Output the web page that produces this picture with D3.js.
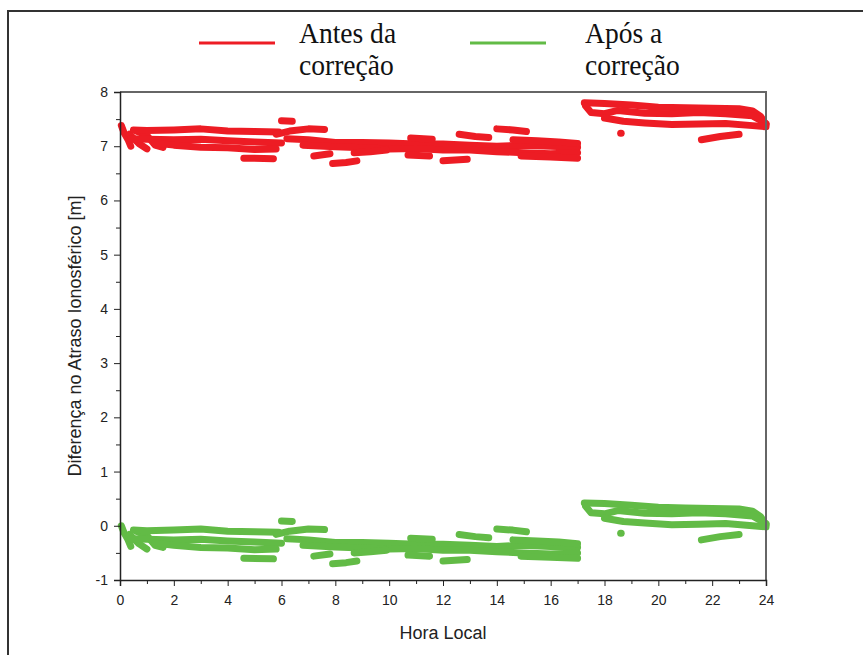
<!DOCTYPE html>
<html>
<head>
<meta charset="utf-8">
<script src="https://cdn.jsdelivr.net/npm/d3@7"></script>
<style>
  body { margin: 0; background: #fff; }
  svg { display: block; }
</style>
</head>
<body>
<div id="chart"></div>
<script>
//Hours of the x axis and value ticks of the y axis
var xTicks = [0, 2, 4, 6, 8, 10, 12, 14, 16, 18, 20, 22, 24];
var yTicks = [-1, 0, 1, 2, 3, 4, 5, 6, 7, 8];

var legendLabels = [["Antes da", "correção"], ["Após a", "correção"]];
var color = ["#ed1c24", "#62bb46"];

//Tracks, each one [hour, difference in m]
//Before correction
var antesTracks = [
  [[0.05, 7.38], [0.15, 7.25], [0.3, 7.12], [0.4, 7.0]],
  [[0.35, 7.22], [0.7, 7.05], [1.0, 6.95]],
  [[0.6, 7.28], [1.0, 7.2], [1.3, 7.02], [1.6, 6.98]],
  [[0.5, 7.3], [1, 7.29], [2, 7.3], [3, 7.32], [4, 7.28], [5, 7.27], [5.9, 7.26]],
  [[0.4, 7.14], [1, 7.13], [2, 7.12], [3, 7.13], [4, 7.1], [5, 7.08], [6.0, 7.06]],
  [[1.3, 7.06], [2, 7.02], [3, 6.98], [4, 6.97], [5, 6.94], [5.8, 6.95]],
  [[4.6, 6.78], [5.7, 6.77]],
  [[6.0, 7.47], [6.4, 7.46]],
  [[5.8, 7.22], [6.3, 7.28], [7.0, 7.32], [7.6, 7.31]],
  [[6.2, 7.14], [7, 7.12], [8, 7.07], [9, 7.07], [10, 7.06], [11, 7.04], [12, 7.04], [13, 7.02], [14, 7.0], [15, 7.02], [16, 7.0], [17, 6.98]],
  [[6.8, 7.02], [8, 6.99], [9, 6.97], [10, 6.95], [11, 6.96], [12, 6.93], [13, 6.93], [14, 6.9], [15, 6.88], [16, 6.86], [17, 6.88]],
  [[7.2, 6.82], [7.8, 6.86]],
  [[7.9, 6.68], [8.4, 6.7], [8.8, 6.73]],
  [[8.7, 6.88], [9.3, 6.9], [9.9, 6.93]],
  [[10.7, 6.84], [11.5, 6.82]],
  [[10.8, 7.15], [11.6, 7.13]],
  [[12.0, 6.73], [12.9, 6.76]],
  [[12.6, 7.22], [13.2, 7.18], [13.7, 7.16]],
  [[14.0, 7.32], [14.6, 7.3], [15.1, 7.27]],
  [[14.6, 7.12], [15.5, 7.1], [16.3, 7.08], [17.0, 7.05]],
  [[14.9, 6.82], [16, 6.8], [17.0, 6.78]],
  [[17.25, 7.8], [18, 7.79], [19, 7.76], [20, 7.72], [21, 7.71], [22, 7.7], [23, 7.69], [23.5, 7.65], [23.8, 7.55], [24, 7.4]],
  [[17.3, 7.74], [17.5, 7.62], [18, 7.6], [18.5, 7.66], [19.5, 7.61], [20.5, 7.6], [21.5, 7.62], [22.5, 7.6], [23.5, 7.56], [24, 7.42]],
  [[18.0, 7.52], [18.7, 7.46], [19.5, 7.43], [20.5, 7.4], [21.5, 7.41], [22.5, 7.42], [23.5, 7.38], [24, 7.36]],
  [[18.6, 7.24], [18.62, 7.24]],
  [[21.6, 7.12], [22.3, 7.18], [23.0, 7.22]]
];

//After correction
var aposTracks = [
  [[0.05, 0.0], [0.15, -0.13], [0.3, -0.26], [0.4, -0.38]],
  [[0.35, -0.16], [0.7, -0.33], [1.0, -0.43]],
  [[0.6, -0.1], [1.0, -0.18], [1.3, -0.36], [1.6, -0.4]],
  [[0.5, -0.08], [1, -0.09], [2, -0.08], [3, -0.06], [4, -0.1], [5, -0.11], [5.9, -0.12]],
  [[0.4, -0.24], [1, -0.25], [2, -0.26], [3, -0.25], [4, -0.28], [5, -0.3], [6.0, -0.32]],
  [[1.3, -0.32], [2, -0.36], [3, -0.4], [4, -0.41], [5, -0.44], [5.8, -0.43]],
  [[4.6, -0.6], [5.7, -0.61]],
  [[6.0, 0.09], [6.4, 0.08]],
  [[5.8, -0.16], [6.3, -0.1], [7.0, -0.06], [7.6, -0.07]],
  [[6.2, -0.24], [7, -0.26], [8, -0.31], [9, -0.31], [10, -0.32], [11, -0.34], [12, -0.34], [13, -0.36], [14, -0.38], [15, -0.36], [16, -0.38], [17, -0.4]],
  [[6.8, -0.36], [8, -0.39], [9, -0.41], [10, -0.43], [11, -0.42], [12, -0.45], [13, -0.45], [14, -0.48], [15, -0.5], [16, -0.52], [17, -0.5]],
  [[7.2, -0.56], [7.8, -0.52]],
  [[7.9, -0.7], [8.4, -0.68], [8.8, -0.65]],
  [[8.7, -0.5], [9.3, -0.48], [9.9, -0.45]],
  [[10.7, -0.54], [11.5, -0.56]],
  [[10.8, -0.23], [11.6, -0.25]],
  [[12.0, -0.65], [12.9, -0.62]],
  [[12.6, -0.16], [13.2, -0.2], [13.7, -0.22]],
  [[14.0, -0.06], [14.6, -0.08], [15.1, -0.11]],
  [[14.6, -0.26], [15.5, -0.28], [16.3, -0.3], [17.0, -0.33]],
  [[14.9, -0.56], [16, -0.58], [17.0, -0.6]],
  [[17.25, 0.42], [18, 0.41], [19, 0.38], [20, 0.34], [21, 0.33], [22, 0.32], [23, 0.31], [23.5, 0.27], [23.8, 0.17], [24, 0.02]],
  [[17.3, 0.36], [17.5, 0.24], [18, 0.22], [18.5, 0.28], [19.5, 0.23], [20.5, 0.22], [21.5, 0.24], [22.5, 0.22], [23.5, 0.18], [24, 0.04]],
  [[18.0, 0.14], [18.7, 0.08], [19.5, 0.05], [20.5, 0.02], [21.5, 0.03], [22.5, 0.04], [23.5, 0.0], [24, -0.02]],
  [[18.6, -0.14], [18.62, -0.14]],
  [[21.6, -0.26], [22.3, -0.2], [23.0, -0.16]]
];

var width = 863, height = 655;
var plot = { left: 120, right: 766, top: 92, bottom: 580 };

var svg = d3.select("#chart").append("svg")
    .attr("width", width)
    .attr("height", height);

//outer frame of the figure
svg.append("rect")
    .attr("x", 8).attr("y", 11)
    .attr("width", 880).attr("height", 680)
    .attr("fill", "none")
    .attr("stroke", "#333")
    .attr("stroke-width", 2);

var x = d3.scaleLinear().domain([0, 24]).range([plot.left, plot.right]);
var y = d3.scaleLinear().domain([-1, 8]).range([plot.bottom, plot.top]);

///////////////////////////////////////////////////////////////////////////
/////////////////////////////// Data tracks ///////////////////////////////
///////////////////////////////////////////////////////////////////////////

var line = d3.line()
    .x(function (d) { return x(d[0]); })
    .y(function (d) { return y(d[1]); });

[antesTracks, aposTracks].forEach(function (tracks, i) {
  svg.append("g")
    .selectAll("path")
    .data(tracks)
    .enter().append("path")
    .attr("d", line)
    .attr("fill", "none")
    .attr("stroke", color[i])
    .attr("stroke-width", 7)
    .attr("stroke-linecap", "round")
    .attr("stroke-linejoin", "round");
});

///////////////////////////////////////////////////////////////////////////
/////////////////////////////// Axes //////////////////////////////////////
///////////////////////////////////////////////////////////////////////////

//top and right frame of the plot
svg.append("path")
    .attr("d", "M" + plot.left + "," + plot.top + "H" + plot.right + "V" + plot.bottom)
    .attr("fill", "none")
    .attr("stroke", "#666")
    .attr("stroke-width", 2);

var minorX = d3.range(1, 24, 2);
var minorY = d3.range(-0.5, 8, 1);

svg.append("g")
    .attr("transform", "translate(0," + plot.bottom + ")")
    .call(d3.axisBottom(x).tickValues(xTicks).tickSize(6).tickPadding(9).tickFormat(String));
svg.append("g")
    .attr("transform", "translate(0," + plot.bottom + ")")
    .call(d3.axisBottom(x).tickValues(minorX).tickSize(4).tickFormat(""))
    .select(".domain").remove();

svg.append("g")
    .attr("transform", "translate(" + plot.left + ",0)")
    .call(d3.axisLeft(y).tickValues(yTicks).tickSize(6).tickPadding(6).tickFormat(String));
svg.append("g")
    .attr("transform", "translate(" + plot.left + ",0)")
    .call(d3.axisLeft(y).tickValues(minorY).tickSize(4).tickFormat(""))
    .select(".domain").remove();

svg.selectAll(".domain").attr("stroke", "#222").attr("stroke-width", 1.5);
svg.selectAll(".tick line").attr("stroke", "#222");
svg.selectAll(".tick text")
    .attr("font-family", "'Liberation Sans', Arial, sans-serif")
    .attr("font-size", 14)
    .attr("fill", "#222");

//axis titles
svg.append("text")
    .attr("x", 443)
    .attr("y", 639)
    .attr("text-anchor", "middle")
    .attr("font-family", "'Liberation Sans', Arial, sans-serif")
    .attr("font-size", 18)
    .attr("fill", "#222")
    .text("Hora Local");

svg.append("text")
    .attr("transform", "translate(81," + (plot.top + plot.bottom) / 2 + ") rotate(-90)")
    .attr("text-anchor", "middle")
    .attr("font-family", "'Liberation Sans', Arial, sans-serif")
    .attr("font-size", 18)
    .attr("fill", "#222")
    .text("Diferença no Atraso Ionosférico [m]");

///////////////////////////////////////////////////////////////////////////
/////////////////////////////// Legend ////////////////////////////////////
///////////////////////////////////////////////////////////////////////////

var legendX = [199, 470];
legendLabels.forEach(function (lab, i) {
  var g = svg.append("g").attr("transform", "translate(" + legendX[i] + ",0)");
  g.append("line")
      .attr("x1", 0).attr("x2", 76)
      .attr("y1", 43).attr("y2", 43)
      .attr("stroke", color[i])
      .attr("stroke-width", 3);
  g.selectAll("text")
      .data(lab)
      .enter().append("text")
      .attr("transform", function (d, j) {
        return "translate(" + (100 + (i == 1 ? 15 : 0)) + "," + (43 + j * 32) + ") scale(0.95,1)";
      })
      .attr("font-family", "'Liberation Serif', 'Times New Roman', serif")
      .attr("font-size", 29)
      .attr("fill", "#111")
      .text(function (d) { return d; });
});
</script>
</body>
</html>
